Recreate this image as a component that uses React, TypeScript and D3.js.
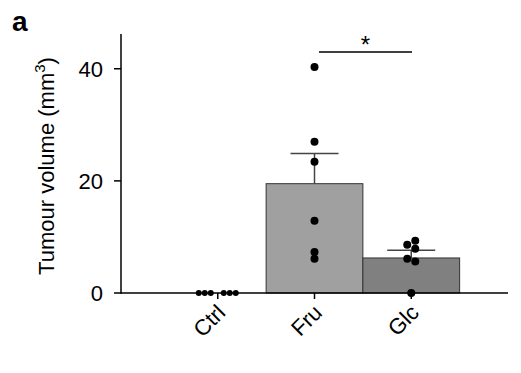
import React from "react";
import * as d3 from "d3";

const categories = ["Ctrl", "Fru", "Glc"];
const ctrlValues = [0, 0, 0, 0, 0, 0];
const fruValues = [40.3, 27.0, 23.4, 12.9, 7.3, 6.1];
const glcValues = [9.3, 8.6, 7.9, 6.1, 5.6, 0];
const yTicks = [0, 20, 40];
const ctrlOffsets = [-19, -13, -7, 6, 12, 18];
const fruOffsets = [0, 0, 0, 0, 0, 0];
const glcOffsets = [4, -4, 4, -4, 4, 0];
const barColors = ["#a0a0a0", "#a0a0a0", "#808080"];

const W = 521;
const H = 373;
const FONT = "'Liberation Sans', Arial, sans-serif";

export default function App() {
  const x = d3.scalePoint<string>().domain(categories).range([121, 508]).padding(1);
  const y = d3.scaleLinear().domain([0, 46.2]).range([293, 34]);
  const step = x.step();
  const groups = [ctrlValues, fruValues, glcValues];
  const offsets = [ctrlOffsets, fruOffsets, glcOffsets];

  const stats = groups.map((vals) => {
    const m = d3.mean(vals) as number;
    const sd = d3.deviation(vals) as number;
    return { mean: m, sem: sd / Math.sqrt(vals.length) };
  });

  return (
    <svg width={W} height={H} style={{ position: "absolute", left: 0, top: 0 }} fontFamily={FONT}>
      <text x={12} y={31} fontSize={28} fontWeight="bold">a</text>
      {/* bars */}
      {categories.map((c, i) =>
        stats[i].mean > 0 ? (
          <rect
            key={c}
            x={(x(c) as number) - step / 2}
            y={y(stats[i].mean)}
            width={step}
            height={y(0) - y(stats[i].mean)}
            fill={barColors[i]}
            stroke="#333"
            strokeWidth={1}
          />
        ) : null
      )}
      {/* error bars */}
      {categories.map((c, i) =>
        stats[i].mean > 0 ? (
          <g key={"e" + c} stroke="#444" strokeWidth={1.5}>
            <line x1={x(c)} x2={x(c)} y1={y(stats[i].mean)} y2={y(stats[i].mean + stats[i].sem)} />
            <line
              x1={(x(c) as number) - 24}
              x2={(x(c) as number) + 24}
              y1={y(stats[i].mean + stats[i].sem)}
              y2={y(stats[i].mean + stats[i].sem)}
            />
          </g>
        ) : null
      )}
      {/* axes */}
      <line x1={121} x2={121} y1={34} y2={293.75} stroke="#000" strokeWidth={1.5} />
      <line x1={121} x2={508} y1={293} y2={293} stroke="#000" strokeWidth={1.5} />
      {yTicks.map((t) => (
        <g key={t}>
          <line x1={114} x2={121} y1={y(t)} y2={y(t)} stroke="#000" strokeWidth={1.5} />
          <text x={103} y={y(t) + 8} fontSize={22} textAnchor="end">{t}</text>
        </g>
      ))}
      {categories.map((c) => (
        <g key={"t" + c}>
          <line x1={x(c)} x2={x(c)} y1={293} y2={299} stroke="#000" strokeWidth={1.5} />
          <text
            transform={`translate(${(x(c) as number) + 9},${314}) rotate(-45)`}
            fontSize={22}
            textAnchor="end"
          >
            {c}
          </text>
        </g>
      ))}
      {/* points */}
      {groups.map((vals, i) =>
        vals.map((v, j) => (
          <circle
            key={i + "-" + j}
            cx={(x(categories[i]) as number) + offsets[i][j]}
            cy={y(v)}
            r={i === 0 ? 3 : 4}
            fill="#000"
          />
        ))
      )}
      {/* significance */}
      <line x1={319} x2={412} y1={52} y2={52} stroke="#000" strokeWidth={1.5} />
      <text x={365.5} y={53} fontSize={24} textAnchor="middle">*</text>
      {/* y label */}
      <text
        transform={`translate(54,${166}) rotate(-90)`}
        fontSize={22}
        textAnchor="middle"
      >
        Tumour volume (mm<tspan dy={-9} fontSize={15}>3</tspan><tspan dy={9}>)</tspan>
      </text>
    </svg>
  );
}
